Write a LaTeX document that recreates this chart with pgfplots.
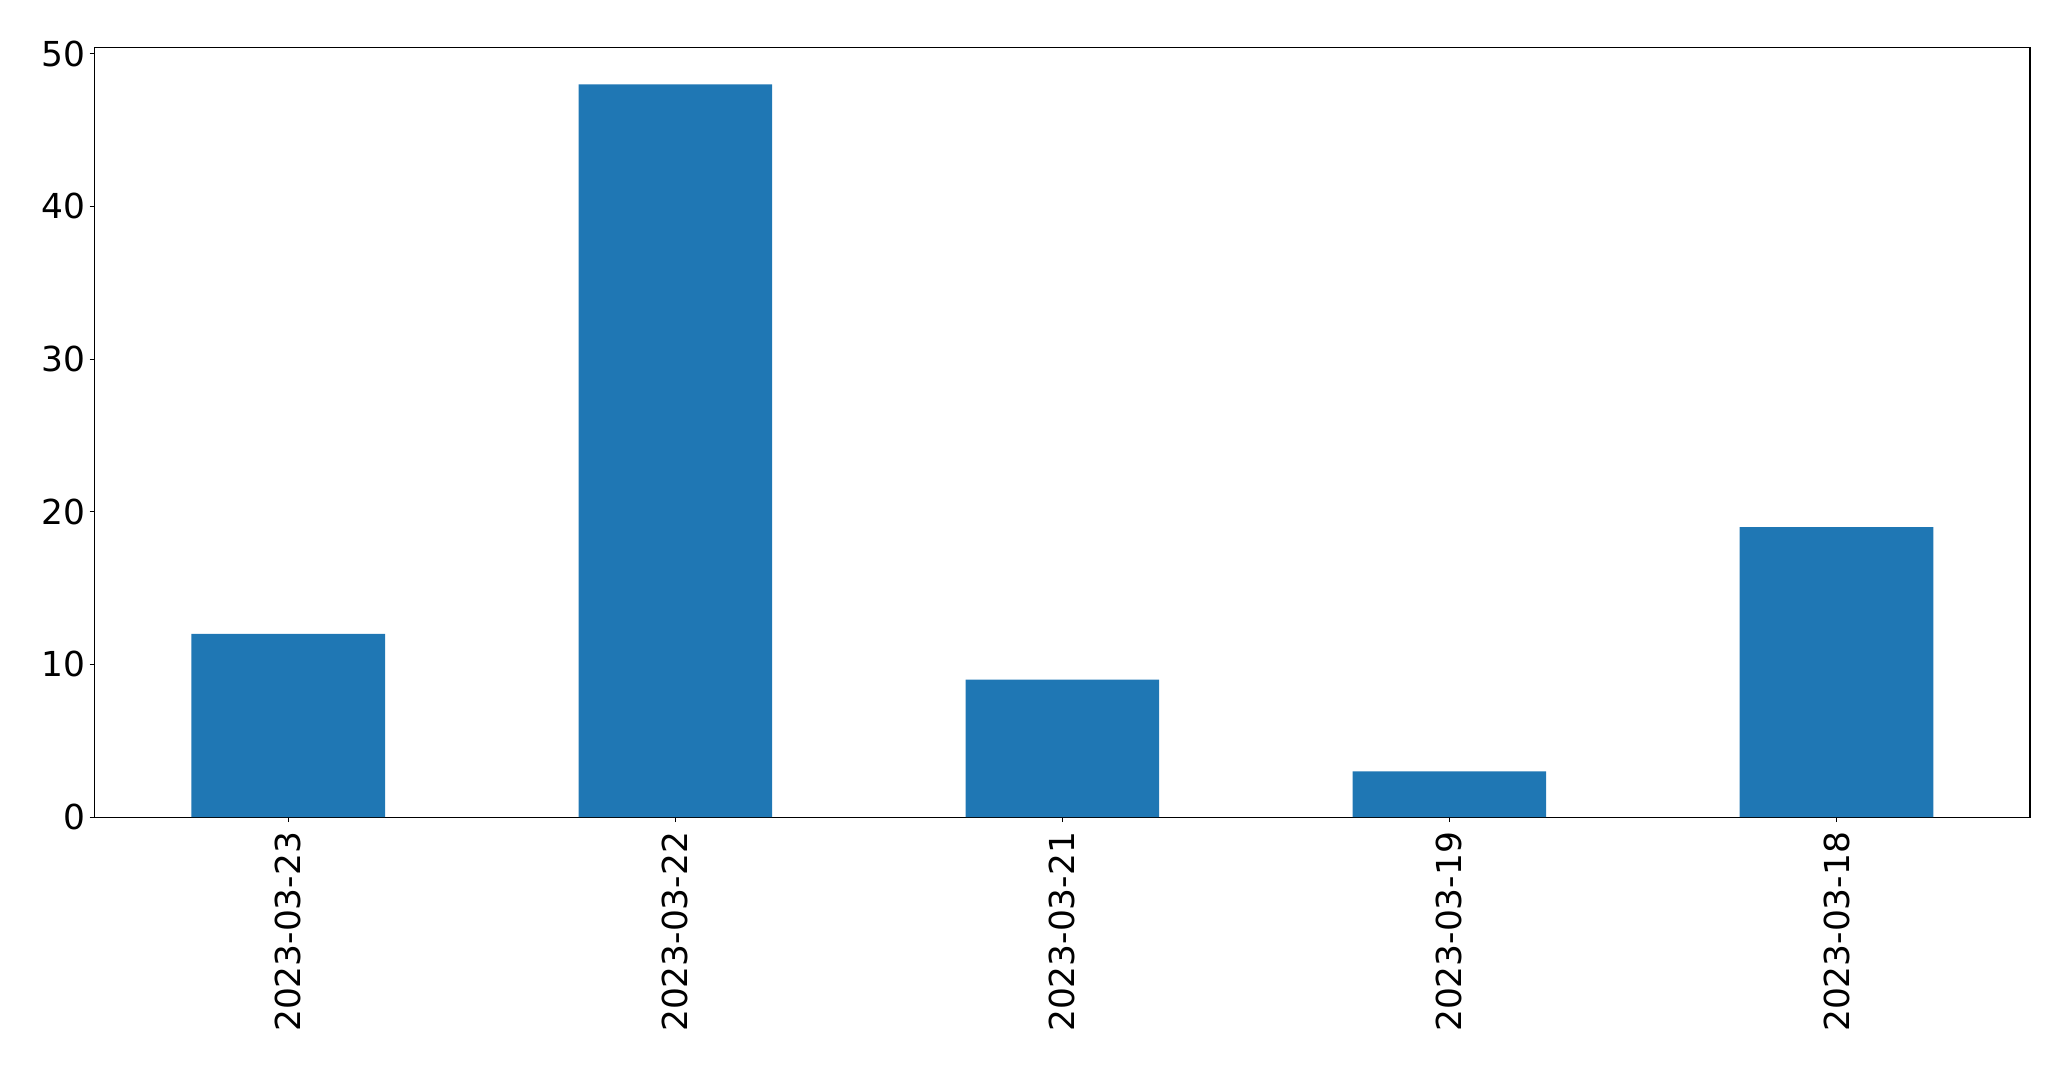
\documentclass[border=0pt]{standalone}
\usepackage{pgfplots}
\pgfplotsset{compat=1.18}
\usepackage{fontspec}
\setmainfont{DejaVu Sans}
\definecolor{barblue}{HTML}{1F77B4}
\begin{document}
\begin{tikzpicture}
\useasboundingbox (-47.35pt,-126pt) rectangle (988.1pt,408.55pt);
\begin{axis}[
  at={(0,0)}, anchor=south west,
  scale only axis,
  width=967.6pt, height=384.7pt,
  xmin=-0.5, xmax=4.5,
  ymin=0, ymax=50.4,
  xtick={0,1,2,3,4},
  xticklabels={2023-03-23,2023-03-22,2023-03-21,2023-03-19,2023-03-18},
  ytick={0,10,20,30,40,50},
  tick align=outside,
  tick pos=left,
  major tick length=2.5pt,
  every tick/.style={black, line width=0.6pt},
  axis line style={line width=0.6pt},
  /pgf/number format/assume math mode=true,
  ticklabel style={font=\fontsize{17.2}{21}\selectfont},
  xticklabel style={rotate=90, anchor=east, inner sep=0pt},
  xticklabel shift=4.7pt,
  yticklabel style={inner sep=0pt},
  yticklabel shift=1.9pt,
  ybar, bar width=0.5, bar shift=0pt,
]
\addplot[fill=barblue, draw=none] coordinates {(0,12) (1,48) (2,9) (3,3) (4,19)};
\end{axis}
\end{tikzpicture}
\end{document}
